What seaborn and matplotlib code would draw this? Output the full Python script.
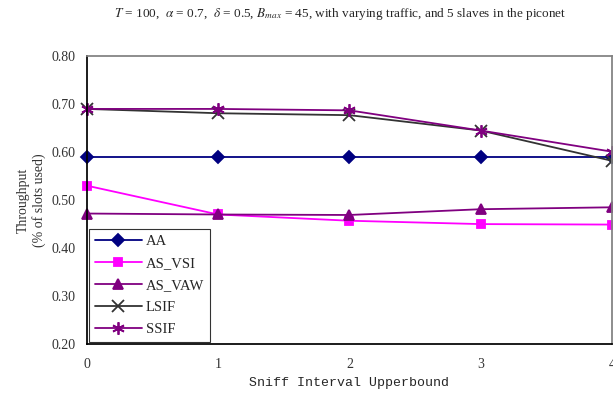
import pandas as pd
import matplotlib
matplotlib.use("Agg")
import matplotlib.pyplot as plt
import seaborn as sns

# ── Dados ────────────────────────────────────────────────
sniff = [0, 1, 2, 3, 4]
aa = [0.59, 0.59, 0.59, 0.59, 0.59]
as_vsi = [0.53, 0.47, 0.457, 0.45, 0.449]
as_vaw = [0.472, 0.470, 0.469, 0.481, 0.485]
lsif = [0.690, 0.681, 0.677, 0.645, 0.582]
ssif = [0.690, 0.690, 0.687, 0.645, 0.601]
series = ["AA", "AS_VSI", "AS_VAW", "LSIF", "SSIF"]
y_ticks = [0.20, 0.30, 0.40, 0.50, 0.60, 0.70, 0.80]

df = pd.DataFrame({
    "x": sniff * 5,
    "y": aa + as_vsi + as_vaw + lsif + ssif,
    "serie": [s for s in series for _ in sniff],
})

# ── Visual ───────────────────────────────────────────────
sns.set_theme(style="white")
plt.rcParams["font.family"] = ["Liberation Serif", "DejaVu Serif"]
plt.rcParams["mathtext.fontset"] = "stix"

cores = {"AA": "#000080", "AS_VSI": "#FF00FF", "AS_VAW": "#800080",
         "LSIF": "#333333", "SSIF": "#800080"}
marcadores = {"AA": "D", "AS_VSI": "s", "AS_VAW": "^", "LSIF": "x", "SSIF": (6, 2, 0)}
tamanhos = {"AA": 6, "AS_VSI": 6, "AS_VAW": 7, "LSIF": 8, "SSIF": 9}

fig = plt.figure(figsize=(6.13, 4.01), dpi=100)
ax = fig.add_axes([0.142, 0.142, 0.856, 0.718])

for s in series:
    sns.lineplot(data=df[df["serie"] == s], x="x", y="y", label=s,
                 color=cores[s], marker=marcadores[s], markersize=tamanhos[s],
                 markeredgecolor=cores[s], markeredgewidth=1.3,
                 linewidth=1.3, ax=ax, clip_on=False)

ax.set_xlim(0, 4)
ax.set_ylim(0.2, 0.8)
ax.set_xticks(sniff)
ax.set_yticks(y_ticks)
ax.set_yticklabels([f"{v:.2f}" for v in y_ticks])
ax.tick_params(direction="in", length=4, labelsize=10, color="black",
               labelcolor="#333333", pad=8)
ax.tick_params(axis="x", pad=10)
for lado in ["left", "bottom"]:
    ax.spines[lado].set_color("black")
for lado in ["top", "right"]:
    ax.spines[lado].set_color("#808080")

ax.set_xlabel("Sniff Interval Upperbound", family="Liberation Mono", fontsize=9.5)
ax.set_ylabel("Throughput\n(% of slots used)", fontsize=10, labelpad=4, color="#333333")

fig.suptitle(r"$T$ = 100,  $\alpha$ = 0.7,  $\delta$ = 0.5, $B_{max}$ = 45, with varying traffic, and 5 slaves in the piconet",
             x=0.555, y=0.985, fontsize=9.5)

leg = ax.legend(title=None, loc="lower left", fontsize=10.5, frameon=True,
                fancybox=False, edgecolor="black", borderaxespad=0.15,
                handlelength=3.2, handletextpad=0.3, labelspacing=0.6,
                borderpad=0.4)
leg.get_frame().set_linewidth(0.8)

plt.savefig("out.png", dpi=100)
